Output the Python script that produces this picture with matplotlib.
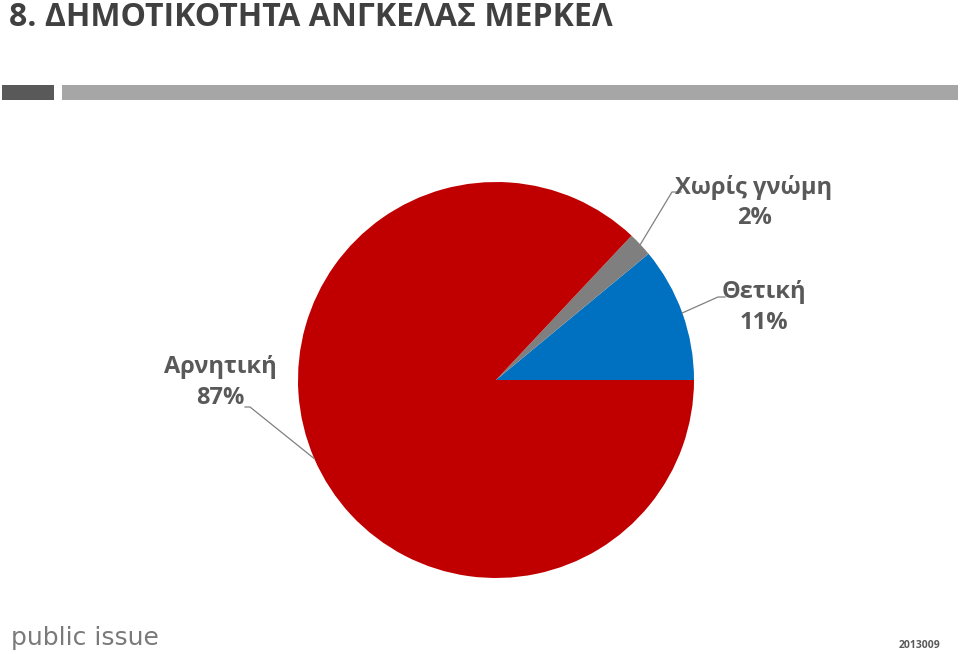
import numpy as np
import matplotlib
matplotlib.use("Agg")
import matplotlib.pyplot as plt
from matplotlib.patches import Rectangle

title = "8. ΔΗΜΟΤΙΚΟΤΗΤΑ ΑΝΓΚΕΛΑΣ ΜΕΡΚΕΛ"
categories = ["Θετική", "Χωρίς γνώμη", "Αρνητική"]
values = [11, 2, 87]
colors = ["#0070C0", "#7F7F7F", "#C00000"]
source = "public issue"
code = "2013009"

W, H = 960, 654
fig = plt.figure(figsize=(W / 100, H / 100), dpi=100)
ax = fig.add_axes([0, 0, 1, 1])

def Y(py):
    return H - py

cx, cy, R = 496, Y(380), 198
wedges, _ = ax.pie(values, colors=colors, startangle=0, counterclock=True,
                   center=(cx, cy), radius=R, frame=True,
                   wedgeprops=dict(linewidth=0))
ax.set_xlim(0, W)
ax.set_ylim(0, H)
ax.set_aspect('equal')
ax.axis('off')

# title and decorative bars
ax.text(9, Y(26), title, fontsize=23, fontweight='bold', color='#404040',
        family=['Open Sans', 'DejaVu Sans'], va='baseline', ha='left')
ax.add_patch(Rectangle((2, Y(100)), 52, 15, color='#595959', lw=0))
ax.add_patch(Rectangle((62, Y(100)), 896, 15, color='#A6A6A6', lw=0))

# labels with leader lines
label_pos = {
    "Θετική": ((764, 292), [(718, 297), (725, 297)]),
    "Χωρίς γνώμη": ((754, 187), [(672, 192), (681, 192)]),
    "Αρνητική": ((220, 367), [(250, 407), (245, 407)]),
}
for w, cat, v in zip(wedges, categories, values):
    mid = np.deg2rad((w.theta1 + w.theta2) / 2)
    sx, sy = cx + R * np.cos(mid), cy + R * np.sin(mid)
    (tx, ty), elbow = label_pos[cat]
    xs = [sx] + [p[0] for p in elbow]
    ys = [sy] + [Y(p[1]) for p in elbow]
    ax.plot(xs, ys, color='#808080', lw=0.9)
    ax.text(tx, Y(ty), cat, fontsize=17, fontweight='bold', color='#595959',
            family=['Open Sans', 'DejaVu Sans'], ha='center', va='center')
    ax.text(tx, Y(ty + 31), f"{v}%", fontsize=17, fontweight='bold', color='#595959',
            family=['Open Sans', 'DejaVu Sans'], ha='center', va='center')

ax.text(11, Y(638), source, fontsize=18, color='#7A7A7A',
        family=['DejaVu Sans'], ha='left', va='center')
ax.text(940, Y(645), code, fontsize=7.5, fontweight='bold', color='#595959',
        family=['Open Sans', 'DejaVu Sans'], ha='right', va='center')

fig.savefig("out.png", dpi=100)
